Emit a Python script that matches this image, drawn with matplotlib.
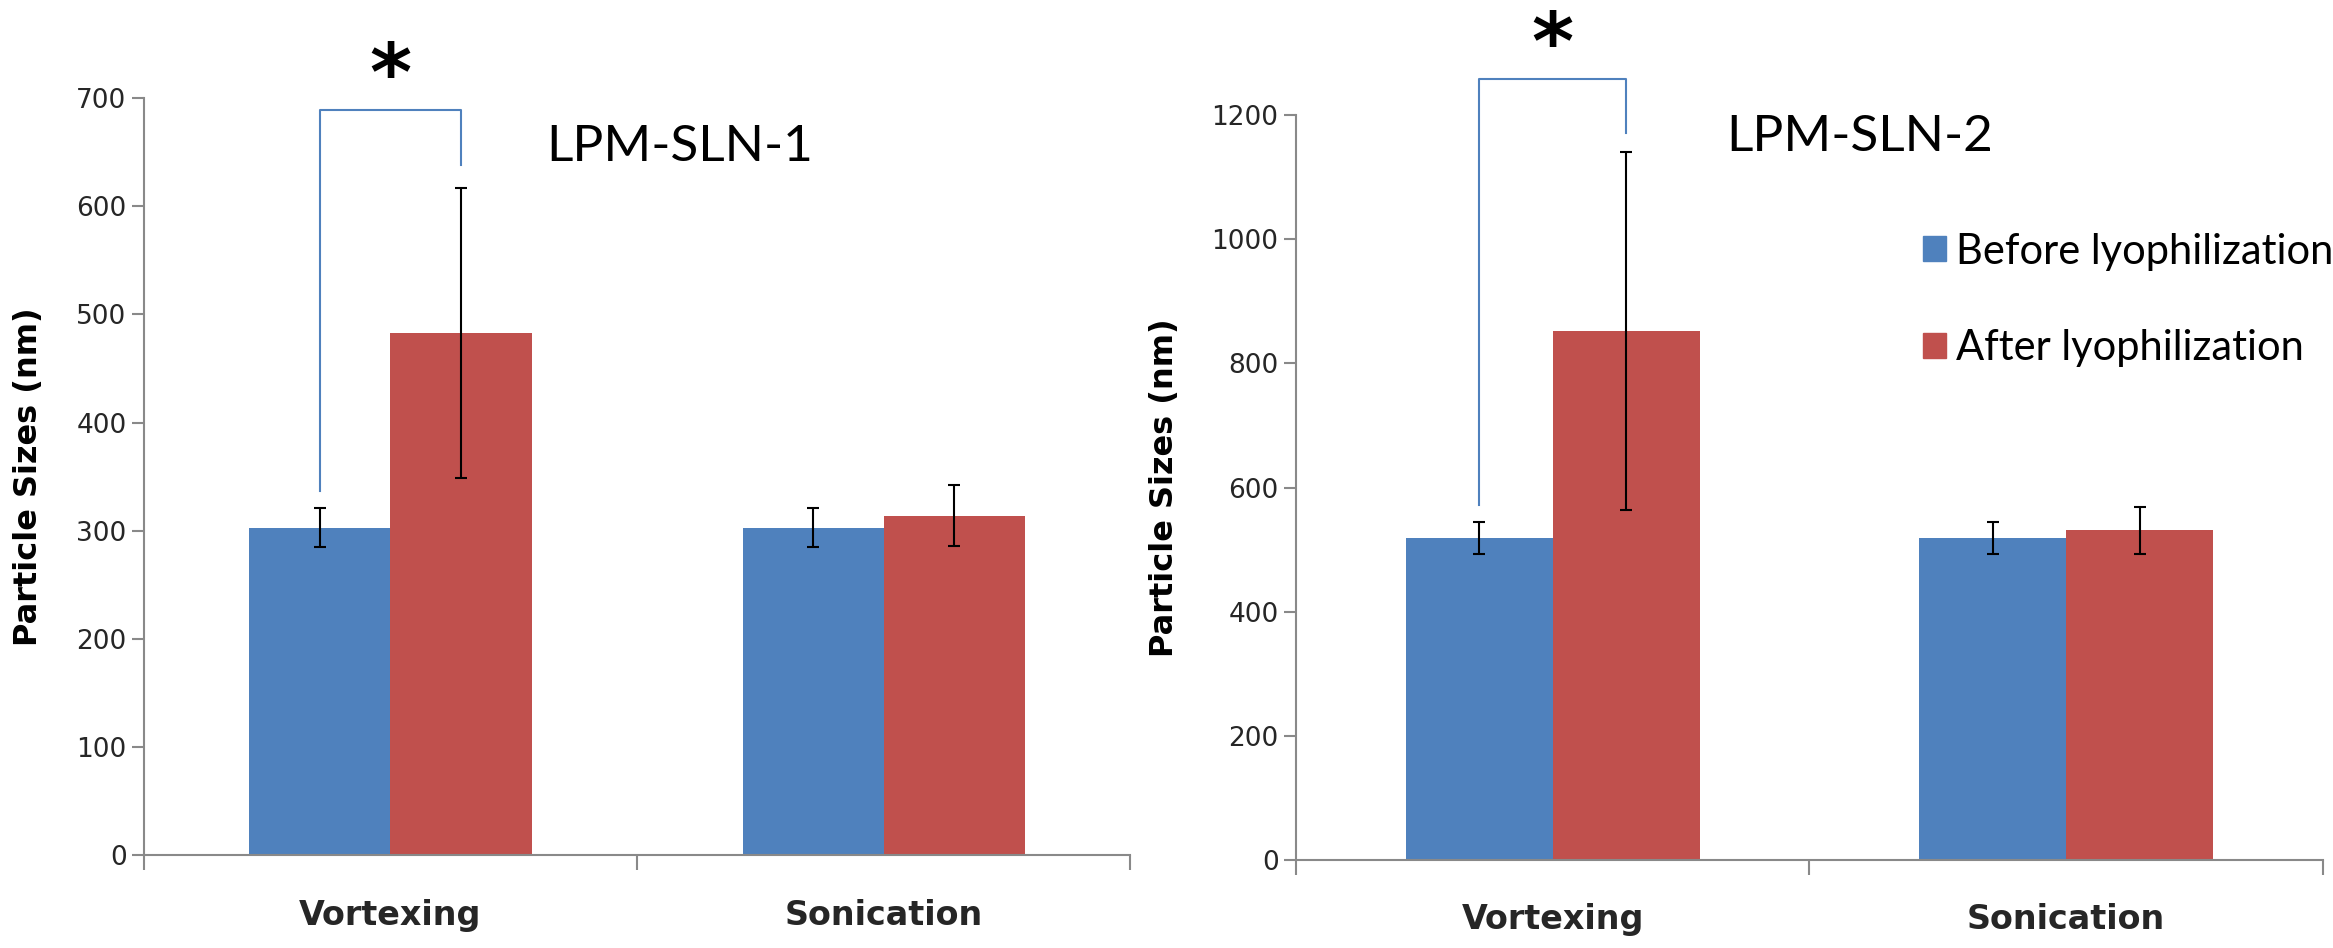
import numpy as np
import matplotlib.pyplot as plt
from matplotlib.patches import Patch

# data
methods = ['Vortexing', 'Sonication']
series = ['Before lyophilization', 'After lyophilization']

sln1_before = [303, 303]
sln1_before_err = [18, 18]
sln1_after = [483, 314]
sln1_after_err = [134, 28]

sln2_before = [519, 519]
sln2_before_err = [26, 26]
sln2_after = [852, 531]
sln2_after_err = [288, 38]

# significance brackets (vortexing pair): top, left leg end, right leg end
sln1_bracket = [689, 337, 638]
sln2_bracket = [1258, 572, 1171]

blue = '#4F81BD'
red = '#C0504D'
spine_col = '#898989'
tick_col = '#262626'
bw = 0.286


def draw_panel(ax, before, before_err, after, after_err, bracket, ymax, ystep, title, title_pos):
    x = np.arange(len(methods))
    ekw = dict(ecolor='black', elinewidth=1.5, capsize=4.5, capthick=1.5)
    ax.bar(x - bw / 2, before, bw, color=blue, yerr=before_err, error_kw=ekw, label=series[0])
    ax.bar(x + bw / 2, after, bw, color=red, yerr=after_err, error_kw=ekw, label=series[1])

    ax.set_xlim(-0.5, len(methods) - 0.5)
    ax.set_ylim(0, ymax)
    ax.set_yticks(np.arange(0, ymax + 1, ystep))
    ax.set_xticks(x)
    ax.set_xticklabels(methods, fontsize=24, fontweight='bold', color=tick_col)
    ax.set_xticks(np.arange(-0.5, len(methods)), minor=True)
    ax.tick_params(axis='x', which='major', length=0, pad=31)
    ax.tick_params(axis='x', which='minor', length=11, width=1.5, color=spine_col, direction='out')
    ax.tick_params(axis='y', length=9, width=1.5, color=spine_col, labelsize=19, labelcolor=tick_col)

    for s in ['top', 'right']:
        ax.spines[s].set_visible(False)
    for s in ['left', 'bottom']:
        ax.spines[s].set_color(spine_col)
        ax.spines[s].set_linewidth(1.5)

    # bracket for vortexing pair
    top, lend, rend = bracket
    xl, xr = x[0] - bw / 2, x[0] + bw / 2
    ax.plot([xl, xl, xr, xr], [lend, top, top, rend], color=blue, lw=1.5, clip_on=False)
    ax.annotate('*', xy=(x[0], top), xytext=(0, 7), textcoords='offset points',
                ha='center', va='baseline', fontsize=58, fontweight='bold',
                annotation_clip=False)

    ax.text(title_pos[0], title_pos[1], title, fontsize=37, family='Lato',
            ha='left', va='baseline', color='black')


fig = plt.figure(figsize=(23.33, 9.48), dpi=100)
ax1 = fig.add_axes([0.0617, 0.0976, 0.4227, 0.7990])
ax2 = fig.add_axes([0.5555, 0.0928, 0.4402, 0.7859])

draw_panel(ax1, sln1_before, sln1_before_err, sln1_after, sln1_after_err,
           sln1_bracket, 700, 100, 'LPM-SLN-1', (0.315, 642))
draw_panel(ax2, sln2_before, sln2_before_err, sln2_after, sln2_after_err,
           sln2_bracket, 1200, 200, 'LPM-SLN-2', (0.337, 1142))

ax1.set_ylabel('Particle Sizes (nm)', fontsize=23, fontweight='bold', va='center')
ax1.yaxis.set_label_coords(-0.1166, 0.5)
ax2.set_ylabel('Particle Sizes (nm)', fontsize=23, fontweight='bold', va='center')
ax2.yaxis.set_label_coords(-0.1285, 0.5)

handles = [Patch(color=blue), Patch(color=red)]
ax2.legend(handles, series, loc='center left', bbox_to_anchor=(0.590, 0.752),
           frameon=False, borderpad=0, handlelength=0.55, handleheight=0.55,
           handletextpad=0.25, labelspacing=1.4, prop={'family': 'Lato', 'size': 30})

fig.savefig('out.png', dpi=100)
